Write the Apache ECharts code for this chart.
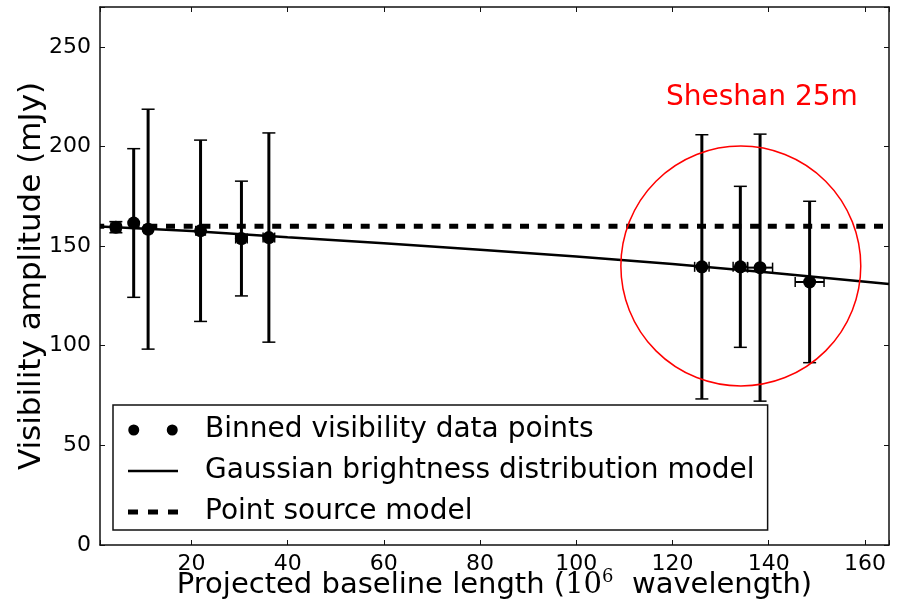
<!DOCTYPE html>
<html>
<head>
<meta charset="utf-8">
<script src="https://cdn.jsdelivr.net/npm/echarts@6/dist/echarts.min.js"></script>
<style>
html,body{margin:0;padding:0;background:#fff;}
#chart{width:901px;height:609px;}
</style>
</head>
<body>
<div id="chart"></div>
<script>
// ---- data ----
const binX   = [4.3, 8.0, 11.0, 21.9, 30.4, 36.1, 126.1, 134.1, 138.2, 148.5];
const binY   = [159.5, 161.6, 158.5, 157.7, 153.8, 154.3, 139.6, 139.6, 139.2, 132.0];
const binYErr = [2.8, 37.3, 60.2, 45.5, 28.8, 52.5, 66.3, 40.4, 67.0, 40.5];
const binXErr = [1.0, 0.5, 0.8, 1.0, 1.2, 1.2, 1.5, 1.5, 2.6, 3.0];

const gaussX = [1, 20, 40, 60, 80, 100, 120, 140, 165];
const gaussY = [159.8, 157.6, 154.4, 151.4, 148.2, 144.8, 141.0, 136.8, 131.0];

const pointX = [1, 165];
const pointY = [160, 160];

const circleCenter = [134.2, 140];
const circleRadiusY = 60.2;   // radius expressed in y-axis units

const xTicks = [20, 40, 60, 80, 100, 120, 140, 160];
const yTicks = [0, 50, 100, 150, 200, 250];

const seriesNames = ['Binned visibility data points', 'Gaussian brightness distribution model', 'Point source model'];

// ---- build ----
const FONT = 'DejaVu Sans';
const points = binX.map((x, i) => [x, binY[i]]);
const errData = binX.map((x, i) => [x, binY[i], binYErr[i], binXErr[i]]);
const gaussData = gaussX.map((x, i) => [x, gaussY[i]]);
const pointData = pointX.map((x, i) => [x, pointY[i]]);

const chart = echarts.init(document.getElementById('chart'));

const axisLineStyle = { color: '#111', width: 1.5 };
const tickStyle = { show: true, inside: true, length: 5, lineStyle: { color: '#111', width: 1 } };

function errRender(params, api) {
  const x = api.value(0), y = api.value(1), ye = api.value(2), xe = api.value(3);
  const top = api.coord([x, y + ye]);
  const bot = api.coord([x, y - ye]);
  const lft = api.coord([x - xe, y]);
  const rgt = api.coord([x + xe, y]);
  const cw = 6.5, ch = 5;
  const st = { stroke: '#000', lineWidth: 3 };
  const capSt = { stroke: '#000', lineWidth: 1.5 };
  const children = [
    { type: 'line', shape: { x1: top[0], y1: top[1], x2: bot[0], y2: bot[1] }, style: st },
    { type: 'line', shape: { x1: top[0] - cw, y1: top[1], x2: top[0] + cw, y2: top[1] }, style: capSt },
    { type: 'line', shape: { x1: bot[0] - cw, y1: bot[1], x2: bot[0] + cw, y2: bot[1] }, style: capSt },
    { type: 'line', shape: { x1: lft[0], y1: lft[1], x2: rgt[0], y2: rgt[1] }, style: { stroke: '#000', lineWidth: 2 } },
    { type: 'line', shape: { x1: lft[0], y1: lft[1] - ch, x2: lft[0], y2: lft[1] + ch }, style: capSt },
    { type: 'line', shape: { x1: rgt[0], y1: rgt[1] - ch, x2: rgt[0], y2: rgt[1] + ch }, style: capSt }
  ];
  return { type: 'group', children: children };
}

function circleRender(params, api) {
  const c = api.coord([api.value(0), api.value(1)]);
  const r = api.size([0, api.value(2)])[1];
  return { type: 'circle', shape: { cx: c[0], cy: c[1], r: r }, style: { fill: 'none', stroke: '#ff0000', lineWidth: 1.5 } };
}

const option = {
  animation: false,
  backgroundColor: '#fff',
  textStyle: { fontFamily: FONT },
  grid: { left: 100, right: 12, top: 7, bottom: 64, outerBoundsMode: 'none', containLabel: false },
  xAxis: [{
    type: 'value', min: 1, max: 165, splitNumber: 8, position: 'bottom',
    axisLine: { show: true, onZero: false, lineStyle: axisLineStyle },
    axisTick: tickStyle, splitLine: { show: false },
    axisLabel: { fontSize: 22, color: '#000', fontFamily: FONT, margin: 8,
      formatter: v => (xTicks.indexOf(v) >= 0 ? String(v) : '') },
    name: '{t|Projected baseline length (}{m|10}{s|6}{t|  wavelength)}',
    nameLocation: 'middle', nameGap: 23, nameMoveOverlap: false,
    nameTextStyle: { rich: {
      t: { fontSize: 29, fontFamily: FONT, color: '#000', lineHeight: 34 },
      m: { fontSize: 29, fontFamily: 'DejaVu Serif', color: '#000', lineHeight: 34 },
      s: { fontSize: 18, fontFamily: 'DejaVu Serif', color: '#000', verticalAlign: 'top', lineHeight: 20 }
    } }
  }, {
    type: 'value', min: 1, max: 165, splitNumber: 8, position: 'top',
    axisLine: { show: true, onZero: false, lineStyle: axisLineStyle },
    axisTick: tickStyle, splitLine: { show: false }, axisLabel: { show: false }
  }],
  yAxis: [{
    type: 'value', min: 0, max: 270, interval: 50, position: 'left',
    axisLine: { show: true, onZero: false, lineStyle: axisLineStyle },
    axisTick: tickStyle, splitLine: { show: false },
    axisLabel: { fontSize: 22, color: '#000', fontFamily: FONT, margin: 9,
      formatter: v => (yTicks.indexOf(v) >= 0 ? String(v) : '') },
    name: 'Visibility amplitude (mJy)', nameLocation: 'middle', nameGap: 53, nameMoveOverlap: false,
    nameTextStyle: { fontSize: 31, color: '#000', fontFamily: FONT }
  }, {
    type: 'value', min: 0, max: 270, interval: 50, position: 'right',
    axisLine: { show: true, onZero: false, lineStyle: axisLineStyle },
    axisTick: tickStyle, splitLine: { show: false }, axisLabel: { show: false }
  }],
  legend: {
    orient: 'vertical', left: 113, top: 405,
    data: [
      { name: seriesNames[0], icon: 'path://M0,5a5,5 0 1,0 10,0a5,5 0 1,0 -10,0zM35,5a5,5 0 1,0 10,0a5,5 0 1,0 -10,0z' },
      { name: seriesNames[1], icon: 'path://M0,0H50V2.5H0Z' },
      { name: seriesNames[2], icon: 'path://M0,0H10V5H0ZM20,0H30V5H20ZM40,0H50V5H40Z' }
    ],
    itemWidth: 50, itemHeight: 11, itemGap: 9,
    padding: [9, 13, 2, 15],
    borderColor: '#111', borderWidth: 1.5, backgroundColor: '#fff',
    textStyle: { fontSize: 28, color: '#000', fontFamily: FONT, lineHeight: 32, padding: [0, 0, 0, 22] },
    selectedMode: false
  },
  graphic: [{
    type: 'text', left: 666, top: 84, z: 100,
    style: { text: 'Sheshan 25m', fill: '#ff0000', font: '28px "DejaVu Sans"' }
  }],
  series: [
    {
      name: seriesNames[2], type: 'line', data: pointData, symbol: 'none',
      lineStyle: { color: '#000', width: 5, type: [9, 8.7], dashOffset: 4.8, cap: 'butt' },
      itemStyle: { color: '#000' }, z: 2, silent: true
    },
    {
      name: seriesNames[1], type: 'line', data: gaussData, symbol: 'none',
      lineStyle: { color: '#000', width: 2.5 }, itemStyle: { color: '#000' }, z: 3, silent: true
    },
    {
      name: 'err', type: 'custom', data: errData, renderItem: errRender, z: 4, silent: true,
      encode: { x: 0, y: 1 }
    },
    {
      name: seriesNames[0], type: 'scatter', data: points, symbolSize: 13,
      itemStyle: { color: '#000', opacity: 1 }, z: 5, silent: true
    },
    {
      name: 'circle', type: 'custom', data: [[circleCenter[0], circleCenter[1], circleRadiusY]],
      renderItem: circleRender, z: 6, silent: true, encode: { x: 0, y: 1 }
    }
  ]
};
chart.setOption(option);
</script>
</body>
</html>
